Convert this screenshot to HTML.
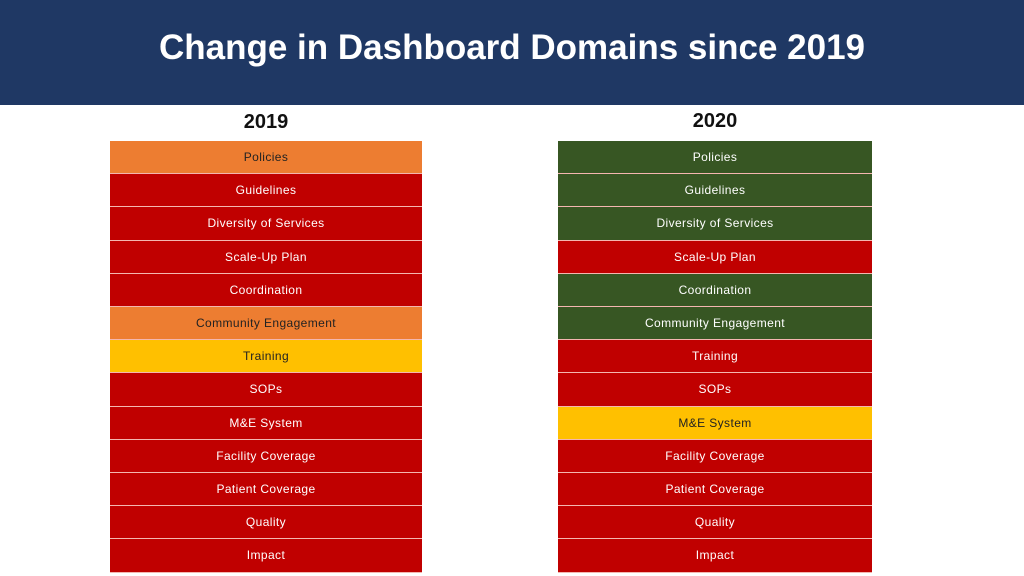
<!DOCTYPE html>
<html><head><meta charset="utf-8"><style>
body{margin:0;width:1024px;height:576px;background:#fff;position:relative;overflow:hidden;font-family:"Liberation Sans",sans-serif}
#hdr{position:absolute;left:0;top:0;width:1024px;height:105px;background:#1f3864}
#title{position:absolute;left:0;top:28px;width:1024px;text-align:center;color:#fff;font-weight:bold;font-size:35px}
.yr{position:absolute;top:111px;font-size:20px;font-weight:bold;text-align:center;color:#111}
.tbl{position:absolute;top:141px}
.row{position:absolute;left:0;display:flex;align-items:center;justify-content:center;font-size:12px;letter-spacing:0.4px;box-sizing:border-box;border-bottom:1px solid #f4b6b0}
</style></head><body>
<div id="hdr"><div id="title">Change in Dashboard Domains since 2019</div></div>
<div class="yr" style="left:110px;width:312px">2019</div>
<div class="yr" style="left:558px;width:314px;top:110px">2020</div>
<div class="tbl" id="t1" style="left:110px;width:312px"></div>
<div class="tbl" id="t2" style="left:558px;width:314px"></div>
<script>
const domains=["Policies","Guidelines","Diversity of Services","Scale-Up Plan","Coordination","Community Engagement","Training","SOPs","M&E System","Facility Coverage","Patient Coverage","Quality","Impact"];
const status2019=["O","R","R","R","R","O","Y","R","R","R","R","R","R"];
const status2020=["G","G","G","R","G","G","R","R","Y","R","R","R","R"];
const colors={O:"#ed7d31",R:"#c00000",Y:"#ffc000",G:"#375623"};
const txt={O:"#222",R:"#fff",Y:"#222",G:"#fff"};
const rowH=33.2;
function build(id,st,yr){
 const t=document.getElementById(id);
 domains.forEach((d,i)=>{
  const r=document.createElement('div');
  r.className='row';
  
  
  r.style.top=(i*rowH)+'px';r.style.height=rowH+'px';r.style.width='100%';
  r.style.background=colors[st[i]];r.style.color=txt[st[i]];
  r.textContent=d;t.appendChild(r);
 });
}
build('t1',status2019,'2019');build('t2',status2020,'2020');
</script>
</body></html>
